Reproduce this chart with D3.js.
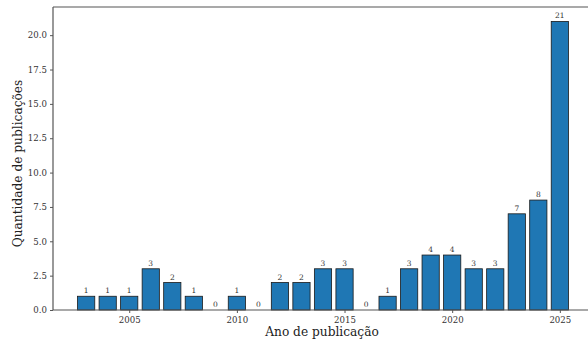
<!DOCTYPE html>
<html><head><meta charset="utf-8">
<script src="https://cdn.jsdelivr.net/npm/d3@7"></script>
<style>html,body{margin:0;padding:0;background:#fff;overflow:hidden;width:588px;height:341px}svg{display:block}</style>
</head><body>
<svg id="c" width="588" height="341" style="overflow:hidden"></svg>
<script>
const years = [2003,2004,2005,2006,2007,2008,2009,2010,2011,2012,2013,2014,2015,2016,2017,2018,2019,2020,2021,2022,2023,2024,2025];
const counts = [1,1,1,3,2,1,0,1,0,2,2,3,3,0,1,3,4,4,3,3,7,8,21];
const xTicks = [2005,2010,2015,2020,2025];
const yTicks = [0,2.5,5,7.5,10,12.5,15,17.5,20];
const xLabel = "Ano de publicação";
const yLabel = "Quantidade de publicações";

const svg = d3.select("#c");
const font = "DejaVu Serif";
const L = 53, R = 593, T = 7, B = 310;
const x = d3.scaleLinear().domain([2001.46, 2026.54]).range([L, R]);
const y = d3.scaleLinear().domain([0, 22.05]).range([B, T]);
const bw = x(2000.8) - x(2000);

svg.append("g").selectAll("rect").data(years).join("rect")
  .attr("x", d => x(d) - bw/2)
  .attr("y", (d,i) => y(counts[i]))
  .attr("width", bw)
  .attr("height", (d,i) => y(0) - y(counts[i]))
  .attr("fill", "#1f77b4")
  .attr("stroke", "#1a1a1a")
  .attr("stroke-width", 0.8);

svg.append("g").selectAll("text").data(years).join("text")
  .attr("x", d => x(d))
  .attr("y", (d,i) => y(counts[i]) - 3)
  .attr("text-anchor", "middle")
  .attr("font-family", font)
  .attr("font-size", 7.5)
  .attr("fill", "#333")
  .text((d,i) => counts[i]);

const xa = svg.append("g").attr("transform", `translate(0,${B})`)
  .call(d3.axisBottom(x).tickValues(xTicks).tickFormat(d3.format("d")).tickSize(3).tickSizeOuter(0));
const ya = svg.append("g").attr("transform", `translate(${L},0)`)
  .call(d3.axisLeft(y).tickValues(yTicks).tickFormat(d3.format(".1f")).tickSize(3).tickSizeOuter(0));
[xa, ya].forEach(a => {
  a.select(".domain").remove();
  a.selectAll("line").attr("stroke", "#555");
  a.selectAll("text").attr("font-family", font).attr("font-size", 8.6).attr("fill", "#333");
});
xa.selectAll("text").attr("dy", "0.85em");

svg.append("line").attr("x1", L).attr("x2", R).attr("y1", T).attr("y2", T)
  .attr("stroke", "#555").attr("stroke-width", 1.2);
svg.append("line").attr("x1", L).attr("x2", R).attr("y1", B).attr("y2", B)
  .attr("stroke", "#555").attr("stroke-width", 1.2);
svg.append("line").attr("x1", L).attr("x2", L).attr("y1", T).attr("y2", B)
  .attr("stroke", "#555").attr("stroke-width", 1.2);

svg.append("text").attr("x", 322).attr("y", 335.5)
  .attr("text-anchor", "middle").attr("font-family", font).attr("font-size", 12.2).attr("fill", "#222")
  .text(xLabel);
svg.append("text").attr("transform", `translate(22,${(T+B)/2 + 5}) rotate(-90)`)
  .attr("text-anchor", "middle").attr("font-family", font).attr("font-size", 12.2).attr("fill", "#222")
  .text(yLabel);
</script>
</body></html>
